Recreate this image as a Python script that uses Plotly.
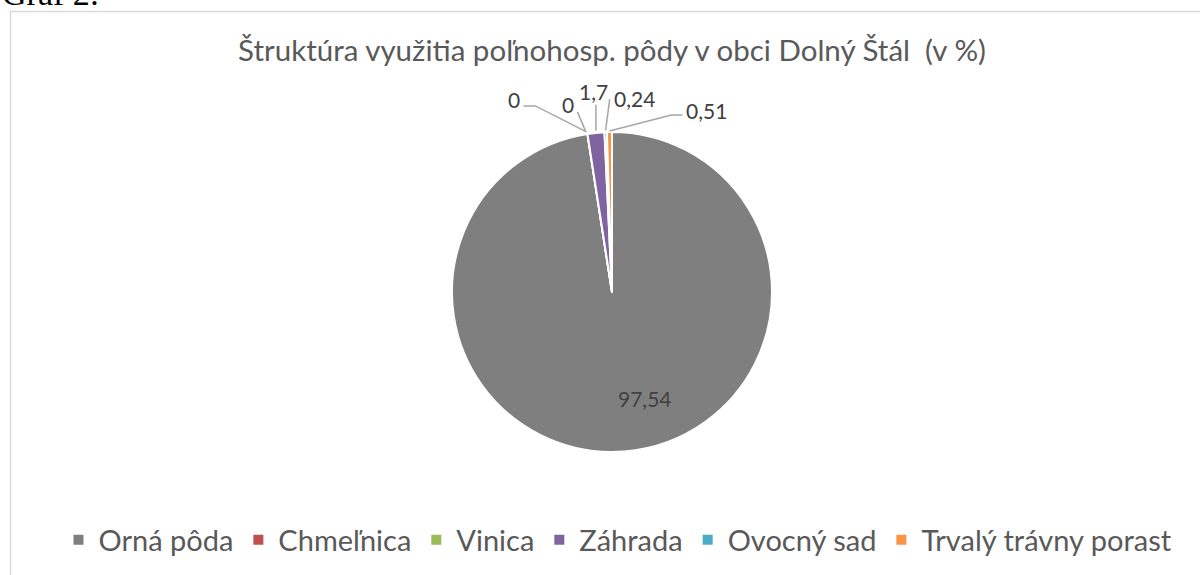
import math
import plotly.graph_objects as go

# ---- data ----
categories = ["Orná pôda", "Chmeľnica", "Vinica", "Záhrada", "Ovocný sad", "Trvalý trávny porast"]
values = [97.54, 0, 0, 1.7, 0.24, 0.51]

# ---- style ----
colors = ["#7f7f7f", "#c0504d", "#9bbb59", "#8064a2", "#4bacc6", "#f79646"]
W, H = 1200, 575
cx, cy, r = 612, 292, 160          # pie centre / radius in pixels
FONT = "Lato"
TEXT_COL = "#595959"
LABEL_COL = "#404040"
# label placement (pixel offsets from the slice's rim point), leader-line polylines
label_offsets = [(33, 106), (-73, -34), (-19, -29), (-2, -41), (29, -34), (97, -22)]
leader_paths = [None,
                [(-64, -28), (-52, -28), (-1, -2)],
                [(-10, -22), (-2, -3)],
                [(0, -28), (0, -2)],
                [(4, -33), (0, -2)],
                [(73, -17), (62, -17), (0, -1)]]


def px(x, y):
    return x / W, 1 - y / H


fig = go.Figure(go.Pie(
    labels=categories,
    values=values,
    sort=False,
    direction="clockwise",
    rotation=0,
    marker=dict(colors=colors, line=dict(color="white", width=2)),
    textinfo="none",
    showlegend=True,
    domain=dict(x=[(cx - r) / W, (cx + r) / W], y=[(H - cy - r) / H, (H - cy + r) / H]),
    hoverinfo="label+value",
))

# data labels, placed relative to each slice's mid-angle
total = sum(values)
annotations = []
shapes = []
cum = 0.0
for i, v in enumerate(values):
    mid = (cum + v / 2) / total * 2 * math.pi
    cum += v
    if i == 0:
        ax, ay = cx, cy
    else:
        ax, ay = cx + r * math.sin(mid), cy - r * math.cos(mid)
    dx, dy = label_offsets[i]
    lx, ly = px(ax + dx, ay + dy)
    txt = f"{v:g}".replace(".", ",")
    annotations.append(dict(text=txt, xref="paper", yref="paper", x=lx, y=ly,
                            xanchor="center", yanchor="middle", showarrow=False,
                            font=dict(family=FONT, size=21, color=LABEL_COL)))
    if leader_paths[i]:
        pts = [px(ax + a, ay + b) for a, b in leader_paths[i]]
        path = "M " + " L ".join(f"{p[0]:.5f},{p[1]:.5f}" for p in pts)
        shapes.append(dict(type="path", xref="paper", yref="paper", path=path,
                           line=dict(color="#a6a6a6", width=1.5)))

# chart border
shapes.append(dict(type="rect", xref="paper", yref="paper", x0=10.5 / W, x1=1.02,
                   y0=-0.02, y1=1 - 11.5 / H, line=dict(color="#d9d9d9", width=1.5)))

annotations.append(dict(text="Graf 2:", xref="paper", yref="paper", x=0, xanchor="left",
                        y=1 - 14 / H, yanchor="bottom", showarrow=False,
                        font=dict(family="Liberation Serif", size=34, color="black")))

fig.update_layout(
    width=W, height=H,
    margin=dict(l=0, r=0, t=0, b=0),
    paper_bgcolor="white",
    separators=", ",
    font=dict(family=FONT, color=TEXT_COL),
    title=dict(text="Štruktúra využitia poľnohosp. pôdy v obci Dolný Štál  (v %)",
               x=612 / W, xanchor="center", y=1 - 51 / H, yanchor="middle",
               font=dict(size=29.5, color=TEXT_COL, family=FONT)),
    legend=dict(orientation="h", x=618 / W, xanchor="center", y=1 - 540 / H, yanchor="middle",
                font=dict(size=29, color=TEXT_COL, family=FONT), traceorder="normal",
                itemwidth=30),
    shapes=shapes,
    annotations=annotations,
)

fig.write_html("out.html")
